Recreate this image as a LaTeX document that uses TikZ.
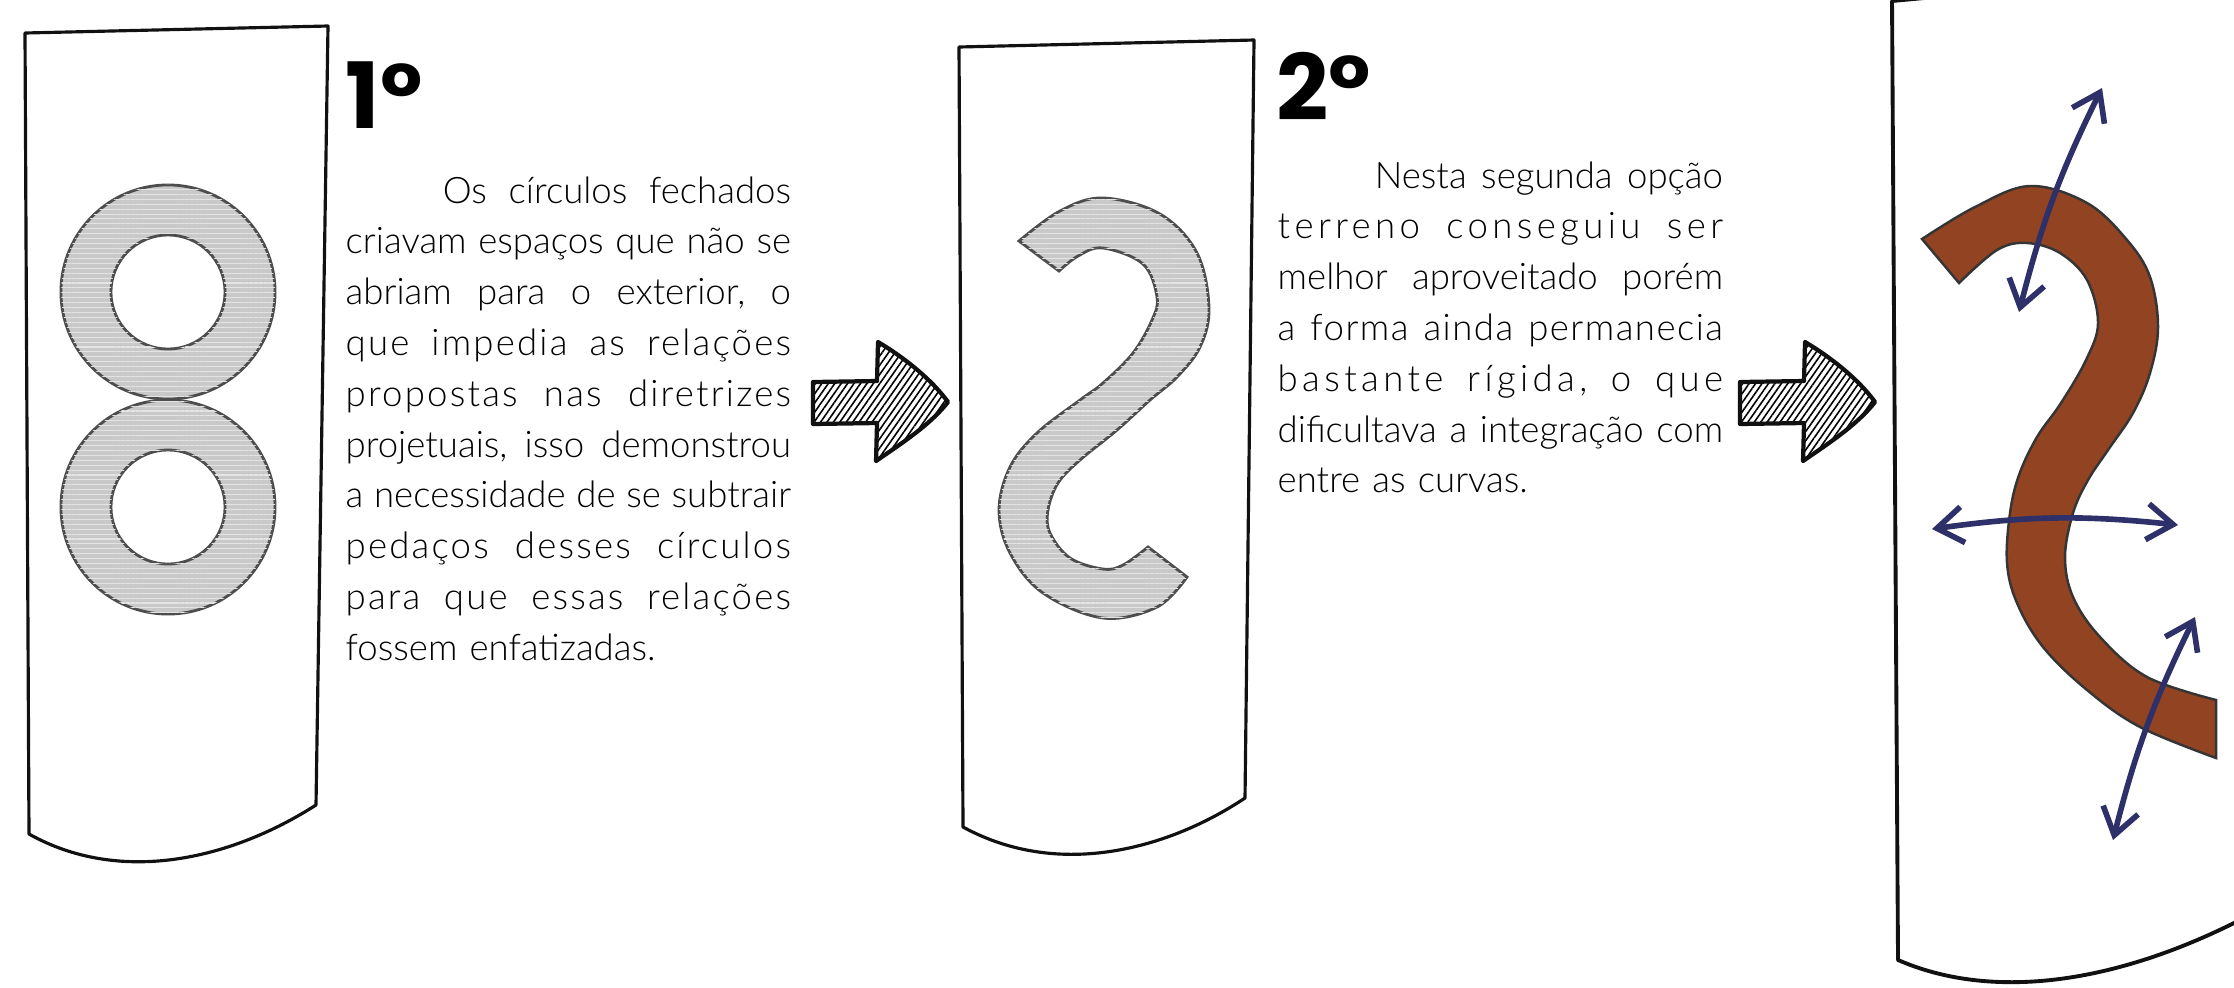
\documentclass[tikz,border=0pt]{standalone}
\usepackage{fontspec}
\setmainfont{Lato}[UprightFont={* Light}]
\newfontfamily\numfont{Poppins}
\usepackage{tikz}
\usetikzlibrary{arrows.meta,patterns.meta}
\definecolor{INK}{HTML}{111111}
\definecolor{CINZA}{HTML}{C9C9C9}
\definecolor{RISCO}{HTML}{E4E4E4}
\definecolor{CINZALN}{HTML}{4D4D4D}
\definecolor{TERRA}{HTML}{924322}
\definecolor{AZUL}{HTML}{2E3169}
\newlength{\largura}
\setlength{\largura}{4.45cm}
\newcommand{\linha}[1]{\makebox[\largura][s]{\frenchspacing\spaceskip=\fontdimen2\font plus 1fil\relax #1}}
\newcommand{\esp}[2]{{\addfontfeatures{LetterSpace=#1}#2}}

\begin{document}
\begin{tikzpicture}[
    x=0.01cm, y=-0.01cm,
    prancha/.style={draw=INK, line width=0.9pt, line join=round},
    forma/.style={draw=CINZALN, line width=0.8pt, fill=CINZA,
      postaction={pattern={Lines[angle=0,distance=1.4pt,line width=0.3pt]}, pattern color=RISCO}},
    curva/.style={draw=INK!85, line width=0.7pt, fill=TERRA},
    seta/.style={draw=INK, line width=1.2pt, line join=round,
      pattern={Lines[angle=55,distance=1.5pt,line width=0.45pt]}},
    fluxo/.style={draw=AZUL, line width=1.6pt, >={Straight Barb[length=2.6mm,width=3.6mm]}, <->},
    corpo/.style={inner sep=0pt, text width=\largura, anchor=base west, font=\fontsize{10.4}{14.45}\selectfont},
    num/.style={inner sep=0pt, anchor=base west, font=\numfont\bfseries\fontsize{26}{26}\selectfont},
  ]
  \useasboundingbox (0,0) rectangle (2234,987);

  % pranchas
  \draw[prancha] (25,33) -- (328,26) -- (316,805) .. controls (230,860) and (120,885) .. (29,834) -- cycle;
  \draw[prancha] (959,47) -- (1254,40) -- (1245,798) .. controls (1170,848) and (1060,880) .. (963,827) -- cycle;
  \draw[prancha, line width=1.1pt] (1935,-3) -- (1892,1) -- (1898,960) .. controls (1990,1000) and (2110,985) .. (2236,922);

  % 1a opcao: circulos fechados
  \foreach \cy in {292,507} {
    \draw[forma, even odd rule] (168,\cy) circle[radius=1.07cm] (168,\cy) circle[radius=0.57cm];
  }

  % 2a opcao: curva cinza
  \draw[forma] plot[smooth, tension=0.6] coordinates {(1019,241) (1060,211) (1103,198) (1160,214) (1197,253) (1209,308) (1200,347) (1177,377) (1150,400) (1117,430) (1080,460) (1058,483) (1048,510) (1050,533) (1070,558) (1103,569) (1123,565) (1148,547)}
    -- plot[smooth, tension=0.6] coordinates {(1187,577) (1157,607) (1103,618) (1043,593) (1010,553) (999,510) (1010,467) (1037,433) (1080,400) (1103,383) (1133,353) (1152,320) (1157,297) (1143,264) (1103,248) (1078,256) (1059,271)} -- cycle;

  % resultado: curva aberta
  \draw[curva] plot[smooth, tension=0.6] coordinates {(1922,239) (1975,207) (2030,186) (2087,203) (2127,240) (2150,277) (2158,327) (2150,373) (2133,413) (2108,450) (2088,480) (2073,513) (2065,557) (2073,597) (2100,637) (2147,677) (2216,700)}
    -- plot[smooth, tension=0.6] coordinates {(2216,758) (2140,727) (2087,690) (2043,647) (2017,603) (2007,563) (2010,513) (2019,475) (2037,437) (2061,403) (2086,360) (2098,323) (2087,280) (2060,253) (2027,243) (1997,250) (1959,283)} -- cycle;

  % relacoes
  \coordinate (r1a) at (2019,312);
  \coordinate (r1b) at (2102,88);
  \coordinate (r2a) at (1932,529);
  \coordinate (r2b) at (2178,525);
  \coordinate (r3a) at (2113,840);
  \coordinate (r3b) at (2195,617);
  \draw[fluxo] (r1a) to[bend left=6] (r1b);
  \draw[fluxo] (r2a) to[bend left=7] (r2b);
  \draw[fluxo] (r3a) to[bend left=6] (r3b);

  % setas hachuradas
  \foreach \dx in {0,927} {
    \draw[seta, shift={(\dx,0)}] (813,382) -- (877,381) -- (878,342) .. controls (905,358) and (932,380) .. (948,402)
      .. controls (930,425) and (902,443) .. (876,461) -- (877,423) -- (813,424) -- cycle;
  }

  % textos
  \node[num] (num1) at (345,128) {1°};
  \node[num] (num2) at (1276,120) {2°};

  \node[corpo] (txt1) at (345,203) {%
    \linha{\hspace*{0.97cm}Os círculos fechados}\\
    \linha{criavam espaços que não se}\\
    \linha{abriam para o exterior, o}\\
    \linha{\esp{6}{que impedia as relações}}\\
    \linha{\esp{6}{propostas nas diretrizes}}\\
    \linha{projetuais, isso demonstrou}\\
    \linha{a necessidade de se subtrair}\\
    \linha{\esp{6}{pedaços desses círculos}}\\
    \linha{\esp{6}{para que essas relações}}\\
    fossem enfatizadas.};

  \node[corpo] (txt2) at (1277,188) {%
    \linha{\hspace*{0.97cm}Nesta segunda opção}\\
    \linha{\esp{12}{terreno conseguiu ser}}\\
    \linha{melhor aproveitado porém}\\
    \linha{\esp{4}{a forma ainda permanecia}}\\
    \linha{\esp{12}{bastante rígida, o que}}\\
    \linha{dificultava a integração com}\\
    entre as curvas.};

\end{tikzpicture}
\end{document}
